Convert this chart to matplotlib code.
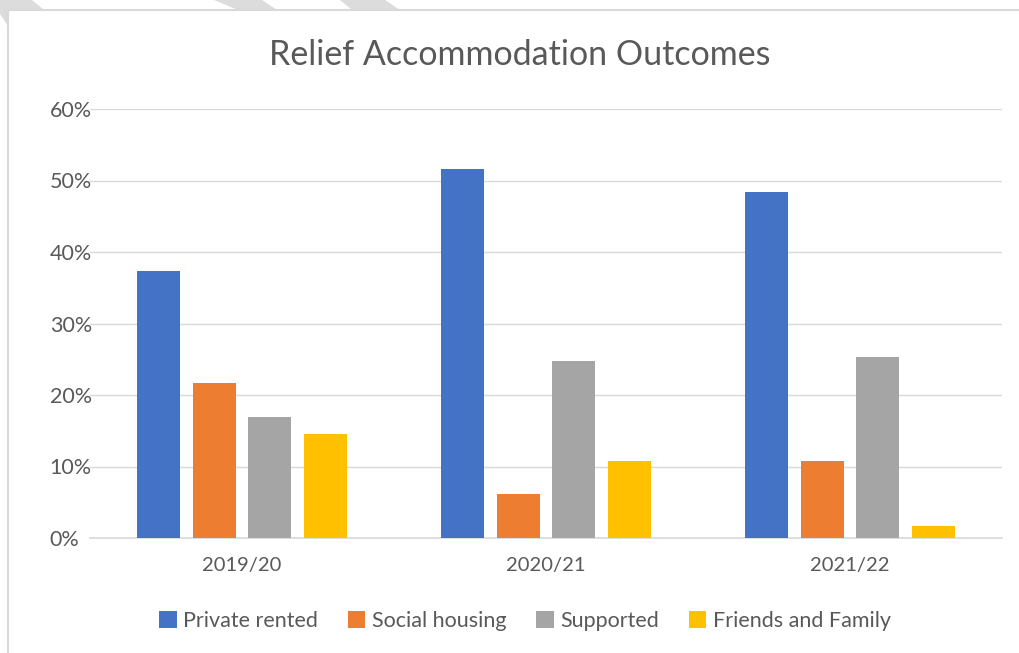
import matplotlib.pyplot as plt
from matplotlib.patches import Polygon, Rectangle
import numpy as np

years = ['2019/20', '2020/21', '2021/22']
series = ['Private rented', 'Social housing', 'Supported', 'Friends and Family']
private_rented = [37.4, 51.6, 48.4]
social_housing = [21.7, 6.1, 10.7]
supported = [16.9, 24.7, 25.3]
friends_family = [14.5, 10.8, 1.7]
colors = ['#4472c4', '#ed7d31', '#a5a5a5', '#ffc000']

W, H = 1019, 653
plt.rcParams['font.family'] = ['Lato', 'DejaVu Sans']
fig = plt.figure(figsize=(W / 100, H / 100), dpi=100)


def fx(px):
    return px / W


def fy(py):
    return 1 - py / H


# grey stripes over the top edge and the chart frame
for pts in [
    [(0, 0), (32, 0), (44, 10), (8, 10), (8, 26), (0, 14)],
    [(214, 0), (262, 0), (277, 10), (238, 10)],
    [(340, 0), (385, 0), (400, 10), (352, 10)],
]:
    fig.patches.append(Polygon([(fx(x), fy(y)) for x, y in pts],
                               closed=True, transform=fig.transFigure,
                               facecolor='#dcdcdc', edgecolor='none'))
fig.patches.append(Rectangle((fx(8), fy(660)), fx(1030) - fx(8), fy(10) - fy(660),
                             transform=fig.transFigure, facecolor='none',
                             edgecolor='#d9d9d9', linewidth=1.5))

ax = fig.add_axes([fx(90), fy(538), fx(1002) - fx(90), fy(109) - fy(538)])
x = np.arange(len(years))
offsets = [-0.274, -0.0913, 0.0913, 0.274]
data = [private_rented, social_housing, supported, friends_family]
for i, (name, vals) in enumerate(zip(series, data)):
    ax.bar(x + offsets[i], vals, width=0.142, color=colors[i], label=name, zorder=3)

ax.set_xlim(-0.5, 2.5)
ax.set_ylim(0, 60)
ax.set_yticks(range(0, 61, 10))
ax.set_yticklabels(['{}%'.format(v) for v in range(0, 61, 10)])
ax.set_xticks(x)
ax.set_xticklabels(years)
ax.yaxis.grid(True, color='#d9d9d9', linewidth=1, zorder=0)
for s in ['top', 'right', 'left']:
    ax.spines[s].set_visible(False)
ax.spines['bottom'].set_color('#d9d9d9')
ax.spines['bottom'].set_linewidth(1.2)
ax.tick_params(axis='both', length=0, colors='#595959')
ax.tick_params(axis='y', pad=29, labelsize=15.5)
ax.tick_params(axis='x', pad=14, labelsize=14.5)
for lab in ax.get_yticklabels():
    lab.set_horizontalalignment('left')

fig.text(fx(520), fy(55), 'Relief Accommodation Outcomes', ha='center', va='center',
         fontsize=24.5, color='#595959')

fig.legend(loc='center', bbox_to_anchor=(fx(525), fy(621)), ncol=4, frameon=False,
           fontsize=15.5, handlelength=0.8, handleheight=0.8, handletextpad=0.3,
           columnspacing=1.4, labelcolor='#595959')

fig.savefig('out.png', dpi=100)
